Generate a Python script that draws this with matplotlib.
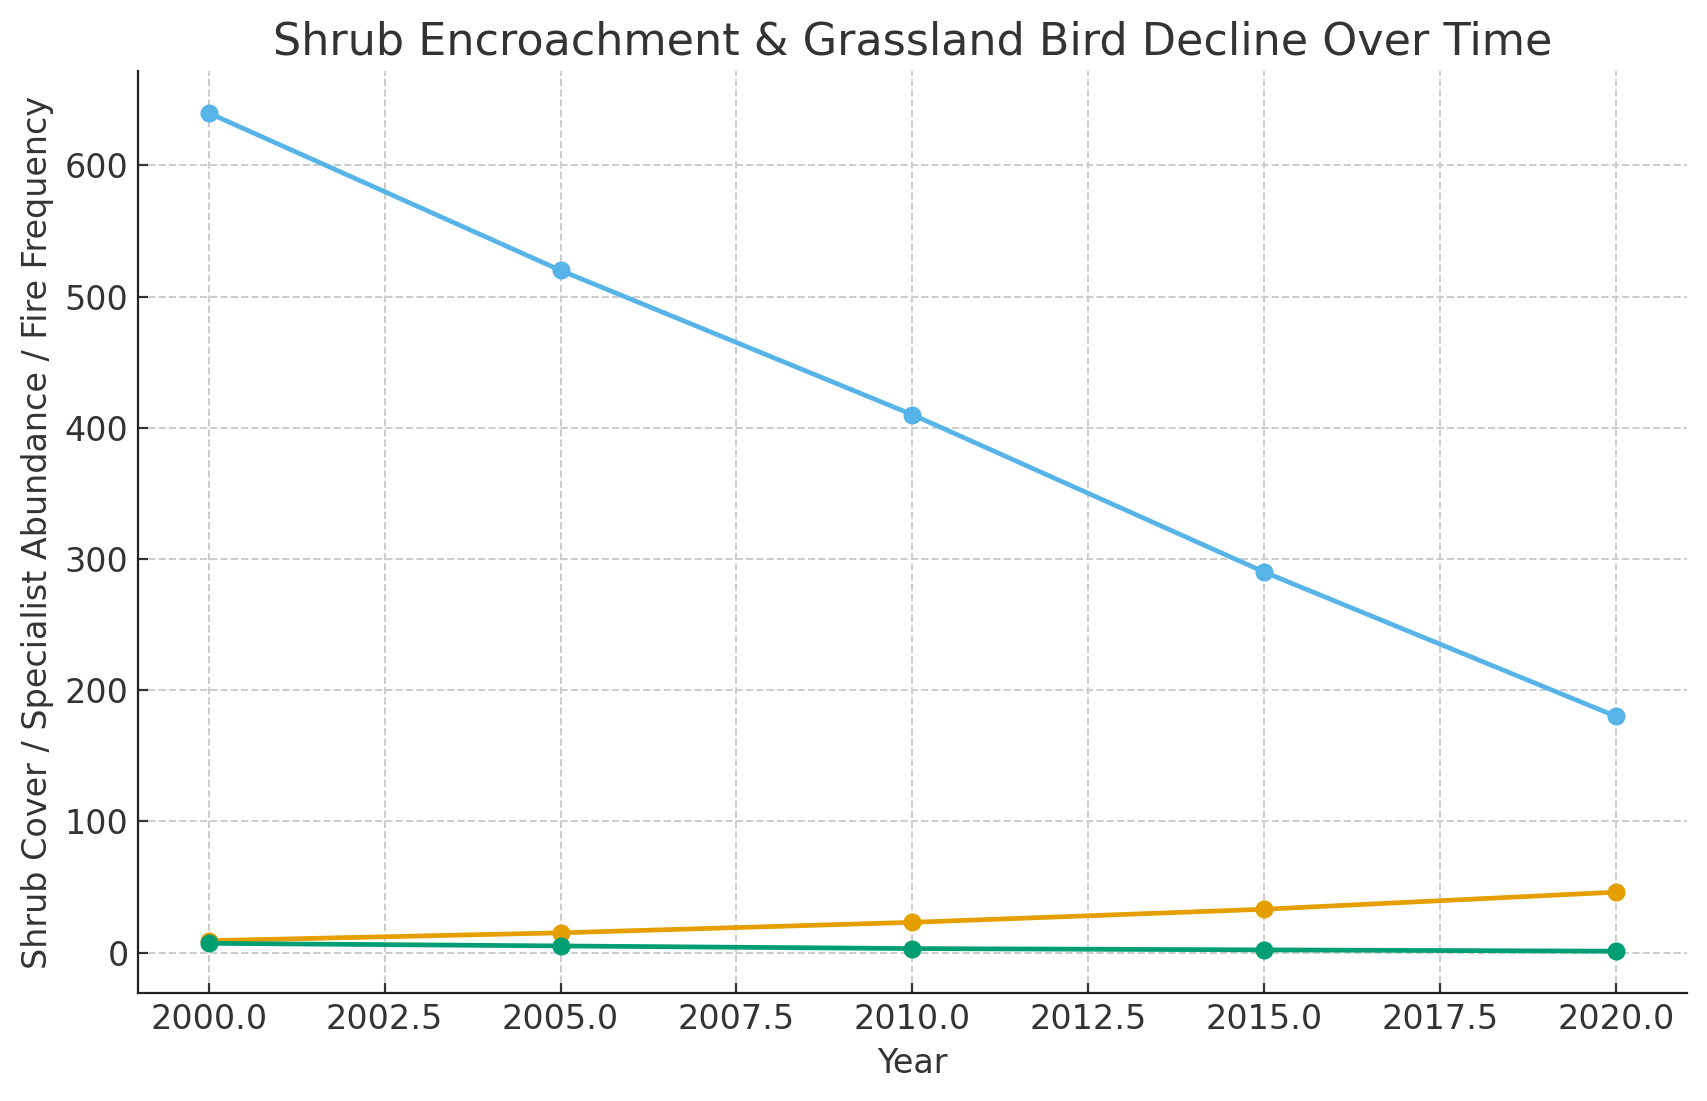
import matplotlib
matplotlib.use("Agg")
import matplotlib.pyplot as plt

years = [2000, 2005, 2010, 2015, 2020]
specialist_abundance = [640, 520, 410, 290, 180]
shrub_cover = [9, 15, 23, 33, 46]
fire_frequency = [7, 5, 3, 2, 1]

plt.rcParams['font.family'] = ['DejaVu Sans']
fig = plt.figure(figsize=(1707/200, 1101/200), dpi=200)
ax = fig.add_axes([0.081, 0.098, 0.907, 0.8375])

text_color = '#333333'
ax.plot(years, specialist_abundance, marker='o', color='#56B4E9', lw=1.7, ms=5.5)
ax.plot(years, shrub_cover, marker='o', color='#E69F00', lw=1.7, ms=5.5)
ax.plot(years, fire_frequency, marker='o', color='#009E73', lw=1.7, ms=5.5)

ax.set_title('Shrub Encroachment & Grassland Bird Decline Over Time', fontsize=16, color=text_color)
ax.set_xlabel('Year', fontsize=12, color=text_color)
ax.set_ylabel('Shrub Cover / Specialist Abundance / Fire Frequency', fontsize=12, color=text_color)
ax.tick_params(labelsize=12, colors=text_color, direction='in', length=3.5)
ax.grid(True, linestyle='--', color='#cccccc', linewidth=0.7)
ax.spines['top'].set_visible(False)
ax.spines['right'].set_visible(False)
for s in ('left', 'bottom'):
    ax.spines[s].set_color('#222222')
ax.set_yticks([0, 100, 200, 300, 400, 500, 600])
ax.set_xticks([2000, 2002.5, 2005, 2007.5, 2010, 2012.5, 2015, 2017.5, 2020])
ax.set_xticklabels(['2000.0', '2002.5', '2005.0', '2007.5', '2010.0', '2012.5', '2015.0', '2017.5', '2020.0'])

fig.savefig('out.png', dpi=200)
